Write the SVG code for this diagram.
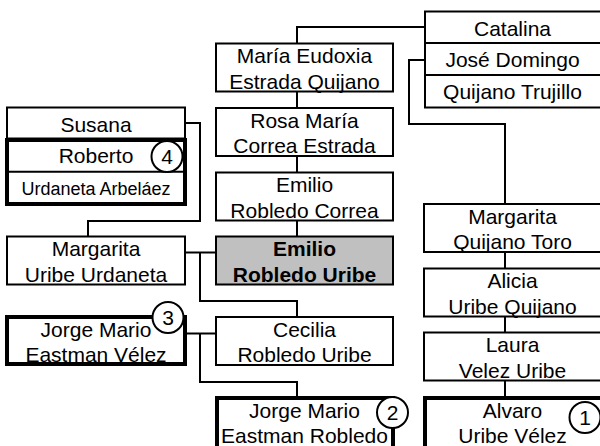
<svg xmlns="http://www.w3.org/2000/svg" width="600" height="446" viewBox="0 0 600 446">
<style>
.box{fill:#fff;stroke:#000;stroke-width:2}
.thick{fill:#fff;stroke:#000;stroke-width:4}
.me{fill:#c0c0c0;stroke:#000;stroke-width:2}
.div{stroke:#000;stroke-width:2}
.t{font-family:"Liberation Sans",Arial,sans-serif;font-size:21px;text-anchor:middle;fill:#000}
.s{font-size:18px}
.b{font-weight:bold}
.conn{fill:none;stroke:#000;stroke-width:2}
.badge{fill:#fff;stroke:#000;stroke-width:2}
</style>
<rect width="600" height="446" fill="#fff"/>
<g id="connectors">
<path class="conn" d="M425,27 H297 V43.5"/>
<path class="conn" d="M297,91.5 V108"/>
<path class="conn" d="M297,156 V172.5"/>
<path class="conn" d="M297,220.5 V236.5"/>
<path class="conn" d="M425,60 H409 V124 H505 V204"/>
<path class="conn" d="M505,252 V268.5"/>
<path class="conn" d="M505,316.5 V332.5"/>
<path class="conn" d="M505,380.5 V397"/>
<path class="conn" d="M185,123 H200 V221 H88 V236.5"/>
<path class="conn" d="M185,252.5 H216"/>
<path class="conn" d="M200,252.5 V301 H297 V317"/>
<path class="conn" d="M185,333.5 H216"/>
<path class="conn" d="M200,333.5 V382 H297 V398"/>
</g>
<g id="catalina-jose-domingo">
<rect class="box" x="425" y="11.5" width="178" height="96"/>
<line class="div" x1="425" y1="43" x2="603" y2="43"/>
<line class="div" x1="425" y1="75" x2="603" y2="75"/>
<text class="t" x="512.5" y="35.5">Catalina</text>
<text class="t" x="512.5" y="66.5">José Domingo</text>
<text class="t" x="512.5" y="99">Quijano Trujillo</text>
</g>
<g id="maria-eudoxia">
<rect class="box" x="216" y="43.5" width="177" height="48"/>
<text class="t" x="304.5" y="63">María Eudoxia</text>
<text class="t" x="304.5" y="88.5">Estrada Quijano</text>
</g>
<g id="rosa-maria">
<rect class="box" x="216" y="108" width="177" height="48"/>
<text class="t" x="304.5" y="127.5">Rosa María</text>
<text class="t" x="304.5" y="153">Correa Estrada</text>
</g>
<g id="emilio-robledo-correa">
<rect class="box" x="216" y="172.5" width="177" height="48"/>
<text class="t" x="304.5" y="192">Emilio</text>
<text class="t" x="304.5" y="217.5">Robledo Correa</text>
</g>
<g id="emilio-robledo-uribe">
<rect class="me" x="216" y="236.5" width="177" height="48"/>
<text class="t b" x="304.5" y="256">Emilio</text>
<text class="t b" x="304.5" y="281.5">Robledo Uribe</text>
</g>
<g id="cecilia">
<rect class="box" x="216" y="317" width="177" height="48"/>
<text class="t" x="304.5" y="336.5">Cecilia</text>
<text class="t" x="304.5" y="362">Robledo Uribe</text>
</g>
<g id="jorge-mario-eastman-robledo">
<rect class="thick" x="217" y="398" width="176" height="54"/>
<text class="t" x="304.5" y="417.5">Jorge Mario</text>
<text class="t" x="304.5" y="443">Eastman Robledo</text>
<circle class="badge" cx="392.5" cy="412.5" r="15.5"/>
<text class="t" x="392.5" y="420">2</text>
</g>
<g id="susana-roberto">
<rect class="box" x="7" y="107.5" width="178" height="31"/>
<text class="t" x="96" y="131.5">Susana</text>
<rect class="thick" x="7" y="140" width="178" height="64"/>
<line class="div" x1="7" y1="171.7" x2="185" y2="171.7"/>
<text class="t" x="96" y="163">Roberto</text>
<text class="t s" x="96" y="195">Urdaneta Arbeláez</text>
<circle class="badge" cx="167" cy="156.5" r="15.5"/>
<text class="t" x="167" y="164">4</text>
</g>
<g id="margarita-uribe-urdaneta">
<rect class="box" x="7" y="236.5" width="178" height="48"/>
<text class="t" x="96" y="256">Margarita</text>
<text class="t" x="96" y="281.5">Uribe Urdaneta</text>
</g>
<g id="jorge-mario-eastman-velez">
<rect class="thick" x="7" y="317" width="178" height="47"/>
<text class="t" x="96" y="336.5">Jorge Mario</text>
<text class="t" x="96" y="361.5">Eastman Vélez</text>
<circle class="badge" cx="168" cy="317.5" r="15.5"/>
<text class="t" x="168" y="325">3</text>
</g>
<g id="margarita-quijano-toro">
<rect class="box" x="424" y="204" width="178" height="48"/>
<text class="t" x="512.5" y="223.5">Margarita</text>
<text class="t" x="512.5" y="249">Quijano Toro</text>
</g>
<g id="alicia-uribe-quijano">
<rect class="box" x="424" y="268.5" width="178" height="48"/>
<text class="t" x="512.5" y="288">Alicia</text>
<text class="t" x="512.5" y="313.5">Uribe Quijano</text>
</g>
<g id="laura-velez-uribe">
<rect class="box" x="424" y="332.5" width="178" height="48"/>
<text class="t" x="512.5" y="352">Laura</text>
<text class="t" x="512.5" y="377.5">Velez Uribe</text>
</g>
<g id="alvaro-uribe-velez">
<rect class="thick" x="425" y="398" width="178" height="54"/>
<text class="t" x="512.5" y="417.5">Alvaro</text>
<text class="t" x="512.5" y="443">Uribe Vélez</text>
<circle class="badge" cx="585" cy="417.5" r="15.5"/>
<text class="t" x="585" y="425">1</text>
</g>
</svg>
